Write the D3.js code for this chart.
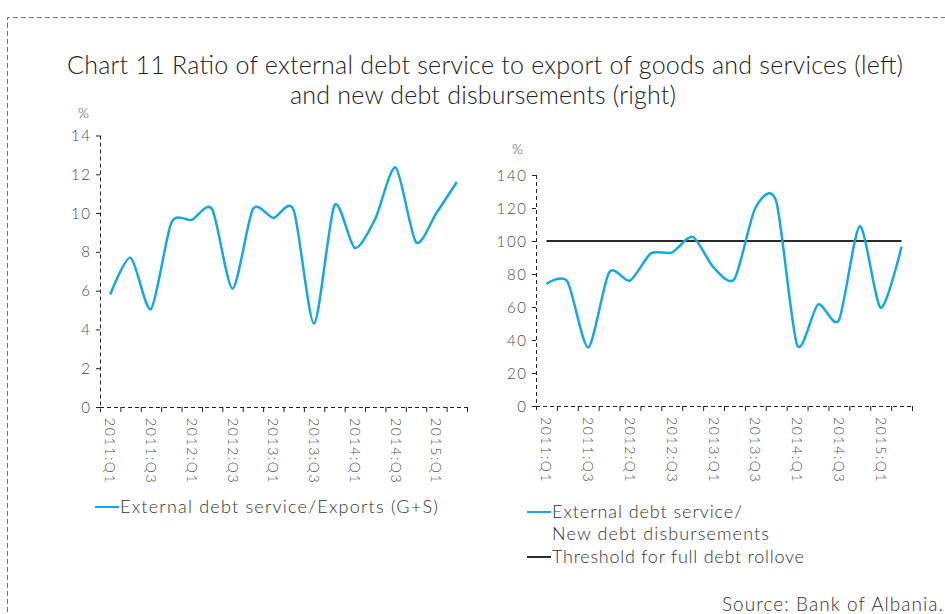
<!DOCTYPE html>
<html>
<head>
<meta charset="utf-8">
<script src="https://cdn.jsdelivr.net/npm/d3@7"></script>
<style>
  body { margin: 0; background: #fff; }
  svg { display: block; font-family: "Lato", "Open Sans", sans-serif; font-weight: 300; }
  .tick-label { fill: #4a4a4a; font-size: 15px; letter-spacing: 1.6px; }
  .x-label { fill: #4a4a4a; font-size: 14px; letter-spacing: 1.6px; }
  .legend { fill: #333; font-size: 18px; }
</style>
</head>
<body>
<svg id="chart" width="945" height="614"></svg>
<script>
const quarters = ["2011:Q1","2011:Q2","2011:Q3","2011:Q4","2012:Q1","2012:Q2","2012:Q3","2012:Q4",
                  "2013:Q1","2013:Q2","2013:Q3","2013:Q4","2014:Q1","2014:Q2","2014:Q3","2014:Q4",
                  "2015:Q1","2015:Q2"];

const serviceToExports = [5.8, 7.7, 5.05, 9.5, 9.65, 10.2, 6.1, 10.2, 9.75, 10.15, 4.3, 10.4, 8.2, 9.7, 12.35, 8.5, 10.0, 11.6];

const serviceToDisbursements = [74, 75.5, 35.5, 81, 76, 92.5, 93, 102.5, 84, 77, 120, 124, 37, 61.5, 52, 109, 59.5, 96.5];

const threshold = quarters.map(() => 100);

const leftTicks = [0, 2, 4, 6, 8, 10, 12, 14];
const rightTicks = [0, 20, 40, 60, 80, 100, 120, 140];

const blue = "#12a9e6";
const black = "#2a2a2a";
const axisColor = "#222";

const svg = d3.select("#chart");

// dashed frame
svg.append("path")
    .attr("d", "M7.5,620 V17.5 H950")
    .attr("fill", "none")
    .attr("stroke", "#777")
    .attr("stroke-width", 1)
    .attr("stroke-dasharray", "5,3");

// title
const title = svg.append("text")
    .attr("fill", "#222")
    .style("font-size", "25px");
title.append("tspan").attr("x", 67).attr("y", 74)
    .attr("textLength", 836).attr("lengthAdjust", "spacing")
    .text("Chart 11 Ratio of external debt service to export of goods and services (left)");
title.append("tspan").attr("x", 290).attr("y", 104)
    .attr("textLength", 386).attr("lengthAdjust", "spacing")
    .text("and new debt disbursements (right)");

function panel(opt) {
    const x = d3.scaleBand().domain(quarters).range([opt.x0, opt.x1]);
    const y = d3.scaleLinear().domain([0, opt.max]).range([opt.y0, opt.y1]);
    const g = svg.append("g");

    // percent sign
    g.append("text").attr("class", "tick-label")
        .attr("x", opt.pctX).attr("y", opt.pctY)
        .style("font-size", "14px")
        .text("%");

    // y axis
    g.append("line")
        .attr("x1", opt.x0 + 0.5).attr("x2", opt.x0 + 0.5)
        .attr("y1", y(opt.max)).attr("y2", opt.y0 + 5)
        .attr("stroke", axisColor).attr("stroke-dasharray", "4,3");
    g.selectAll(".ytick").data(opt.ticks).enter().append("line")
        .attr("x1", opt.x0 - 4).attr("x2", opt.x0)
        .attr("y1", d => y(d) + 0.5).attr("y2", d => y(d) + 0.5)
        .attr("stroke", axisColor);
    g.selectAll(".ylab").data(opt.ticks).enter().append("text")
        .attr("class", "tick-label")
        .attr("x", opt.x0 - 8.5).attr("y", d => y(d) + 5.5)
        .attr("text-anchor", "end")
        .text(d => d);

    // x axis
    g.append("line")
        .attr("x1", opt.x0).attr("x2", opt.x1)
        .attr("y1", opt.y0 + 0.5).attr("y2", opt.y0 + 0.5)
        .attr("stroke", axisColor).attr("stroke-dasharray", "4,3");
    const bounds = quarters.map(q => x(q)).concat([opt.x1]);
    g.selectAll(".xtick").data(bounds.slice(1)).enter().append("line")
        .attr("x1", d => d + 0.5).attr("x2", d => d + 0.5)
        .attr("y1", opt.y0).attr("y2", opt.y0 + 5)
        .attr("stroke", axisColor);
    g.selectAll(".xlab").data(quarters.filter((q, i) => i % 2 === 0)).enter().append("text")
        .attr("class", "x-label")
        .attr("transform", d => `translate(${x(d) + x.bandwidth() / 2 - 5},${opt.y0 + 11}) rotate(90)`)
        .text(d => d);

    const line = d3.line()
        .x((d, i) => x(quarters[i]) + x.bandwidth() / 2)
        .y(d => y(d))
        .curve(d3.curveCardinal.tension(0.25));

    opt.series.forEach(s => {
        g.append("path")
            .datum(s.values)
            .attr("fill", "none")
            .attr("stroke", s.color)
            .attr("stroke-width", s.width)
            .attr("d", line);
    });

    // legend
    opt.legend.forEach(l => {
        g.append("line")
            .attr("x1", l.x).attr("x2", l.x + 24)
            .attr("y1", l.y).attr("y2", l.y)
            .attr("stroke", l.color).attr("stroke-width", 2);
        const t = g.append("text").attr("class", "legend");
        l.lines.forEach((txt, i) => {
            t.append("tspan")
                .attr("x", l.x + 25).attr("y", l.y + 5.5 + i * 22)
                .attr("textLength", l.widths[i]).attr("lengthAdjust", "spacing")
                .text(txt);
        });
    });
}

panel({
    x0: 100, x1: 467, y0: 407, y1: 135.5, max: 14,
    ticks: leftTicks, pctX: 78, pctY: 118,
    series: [{values: serviceToExports, color: blue, width: 2.5}],
    legend: [{x: 95, y: 507, color: blue, lines: ["External debt service/Exports (G+S)"], widths: [318]}]
});

panel({
    x0: 536, x1: 912, y0: 406, y1: 175, max: 140,
    ticks: rightTicks, pctX: 512, pctY: 154,
    series: [
        {values: threshold, color: black, width: 2},
        {values: serviceToDisbursements, color: blue, width: 2.5}
    ],
    legend: [
        {x: 527, y: 512, color: blue, lines: ["External debt service/", "New debt disbursements"], widths: [190, 217]},
        {x: 527, y: 557, color: black, lines: ["Threshold for full debt rollove"], widths: [252]}
    ]
});

// source
svg.append("text")
    .attr("x", 722).attr("y", 611)
    .attr("fill", "#333")
    .attr("textLength", 221).attr("lengthAdjust", "spacing")
    .style("font-size", "19px")
    .text("Source: Bank of Albania.");
</script>
</body>
</html>
